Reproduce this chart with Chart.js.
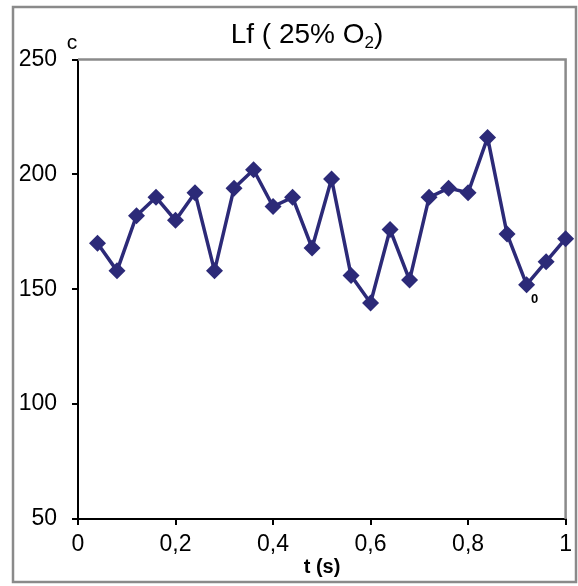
<!DOCTYPE html>
<html>
<head>
<meta charset="utf-8">
<script src="https://cdn.jsdelivr.net/npm/chart.js@4"></script>
<style>
  html, body { margin: 0; padding: 0; background: #fff; }
  #wrap { width: 578px; height: 586px; position: relative; }
</style>
</head>
<body>
<div id="wrap"><canvas id="lfChart" width="578" height="586"></canvas></div>
<script>
// time (s) and Lf values
const times = [0.04, 0.08, 0.12, 0.16, 0.20, 0.24, 0.28, 0.32, 0.36, 0.40, 0.44, 0.48, 0.52,
               0.56, 0.60, 0.64, 0.68, 0.72, 0.76, 0.80, 0.84, 0.88, 0.92, 0.96, 1.00];
const lfValues = [170, 158, 182, 190, 180, 192, 158, 194, 202, 186, 190, 168, 198,
                  156, 144, 176, 154, 190, 194, 192, 216, 174, 152, 162, 172];
const yTicks = [50, 100, 150, 200, 250];
const xTicks = [0, 0.2, 0.4, 0.6, 0.8, 1];

const FONT = "'Liberation Sans', Arial, sans-serif";
const NAVY = '#2c2a78';
const GRAY = '#8a8a8a';

const decorations = {
    id: 'decorations',
    beforeDatasetsDraw(chart) {
        const { ctx, chartArea: a } = chart;
        ctx.save();
        // grey frame of the plot area (top + right)
        ctx.strokeStyle = GRAY;
        ctx.lineWidth = 2.5;
        ctx.beginPath();
        ctx.moveTo(a.left, a.top);
        ctx.lineTo(a.right, a.top);
        ctx.lineTo(a.right, a.bottom);
        ctx.stroke();
        ctx.restore();
    },
    afterDraw(chart) {
        const { ctx, scales } = chart;
        ctx.save();
        // outer border
        ctx.strokeStyle = GRAY;
        ctx.lineWidth = 2.5;
        ctx.strokeRect(13, 7, 563, 575);

        // title with subscript
        ctx.fillStyle = '#000';
        ctx.textBaseline = 'alphabetic';
        const main = 'Lf ( 25% O';
        ctx.font = '28px ' + FONT;
        const w1 = ctx.measureText(main).width;
        ctx.font = '17px ' + FONT;
        const w2 = ctx.measureText('2').width;
        ctx.font = '28px ' + FONT;
        const w3 = ctx.measureText(')').width;
        let x = 307 - (w1 + w2 + w3) / 2;
        ctx.textAlign = 'left';
        ctx.fillText(main, x, 43);
        ctx.font = '17px ' + FONT;
        ctx.fillText('2', x + w1, 48);
        ctx.font = '28px ' + FONT;
        ctx.fillText(')', x + w1 + w2, 43);

        // "c" unit mark above the y axis
        ctx.font = '21px ' + FONT;
        ctx.textAlign = 'center';
        ctx.fillText('c', 72, 49);

        // x axis title
        ctx.font = 'bold 20px ' + FONT;
        ctx.textBaseline = 'middle';
        ctx.fillText('t (s)', 322, 567);

        // stray "0" label near the low point
        const px = scales.x.getPixelForValue(times[22]);
        const py = scales.y.getPixelForValue(lfValues[22]);
        ctx.font = 'bold 13px ' + FONT;
        ctx.fillText('0', px + 8, py + 15);
        ctx.restore();
    }
};

new Chart(document.getElementById('lfChart'), {
    type: 'line',
    data: {
        datasets: [{
            data: times.map((t, i) => ({ x: t, y: lfValues[i] })),
            borderColor: NAVY,
            backgroundColor: NAVY,
            borderWidth: 3.5,
            tension: 0,
            pointStyle: 'rectRot',
            pointRadius: 8.5,
            pointBorderWidth: 0,
            pointBackgroundColor: NAVY,
            clip: false
        }]
    },
    options: {
        responsive: false,
        animation: false,
        devicePixelRatio: 1,
        layout: { padding: { left: 0, right: 10, top: 59.5, bottom: 0 } },
        plugins: {
            legend: { display: false },
            title: { display: false },
            tooltip: { enabled: false }
        },
        scales: {
            x: {
                type: 'linear',
                min: 0,
                max: 1,
                afterBuildTicks: s => { s.ticks = xTicks.map(v => ({ value: v })); },
                afterFit: s => { s.height = 67; },
                grid: { drawOnChartArea: false, drawTicks: true, tickLength: 6, color: '#000', lineWidth: 2 },
                border: { color: '#000', width: 2 },
                ticks: {
                    color: '#000',
                    padding: 6,
                    maxRotation: 0,
                    font: { family: FONT, size: 23 },
                    callback: v => String(Math.round(v * 10) / 10).replace('.', ',')
                }
            },
            y: {
                min: 50,
                max: 250,
                afterBuildTicks: s => { s.ticks = yTicks.map(v => ({ value: v })); },
                afterFit: s => { s.width = 78; },
                grid: { drawOnChartArea: false, drawTicks: true, tickLength: 6, color: '#000', lineWidth: 2 },
                border: { color: '#000', width: 2 },
                ticks: {
                    color: '#000',
                    padding: 15,
                    font: { family: FONT, size: 23 }
                }
            }
        }
    },
    plugins: [decorations]
});
</script>
</body>
</html>
